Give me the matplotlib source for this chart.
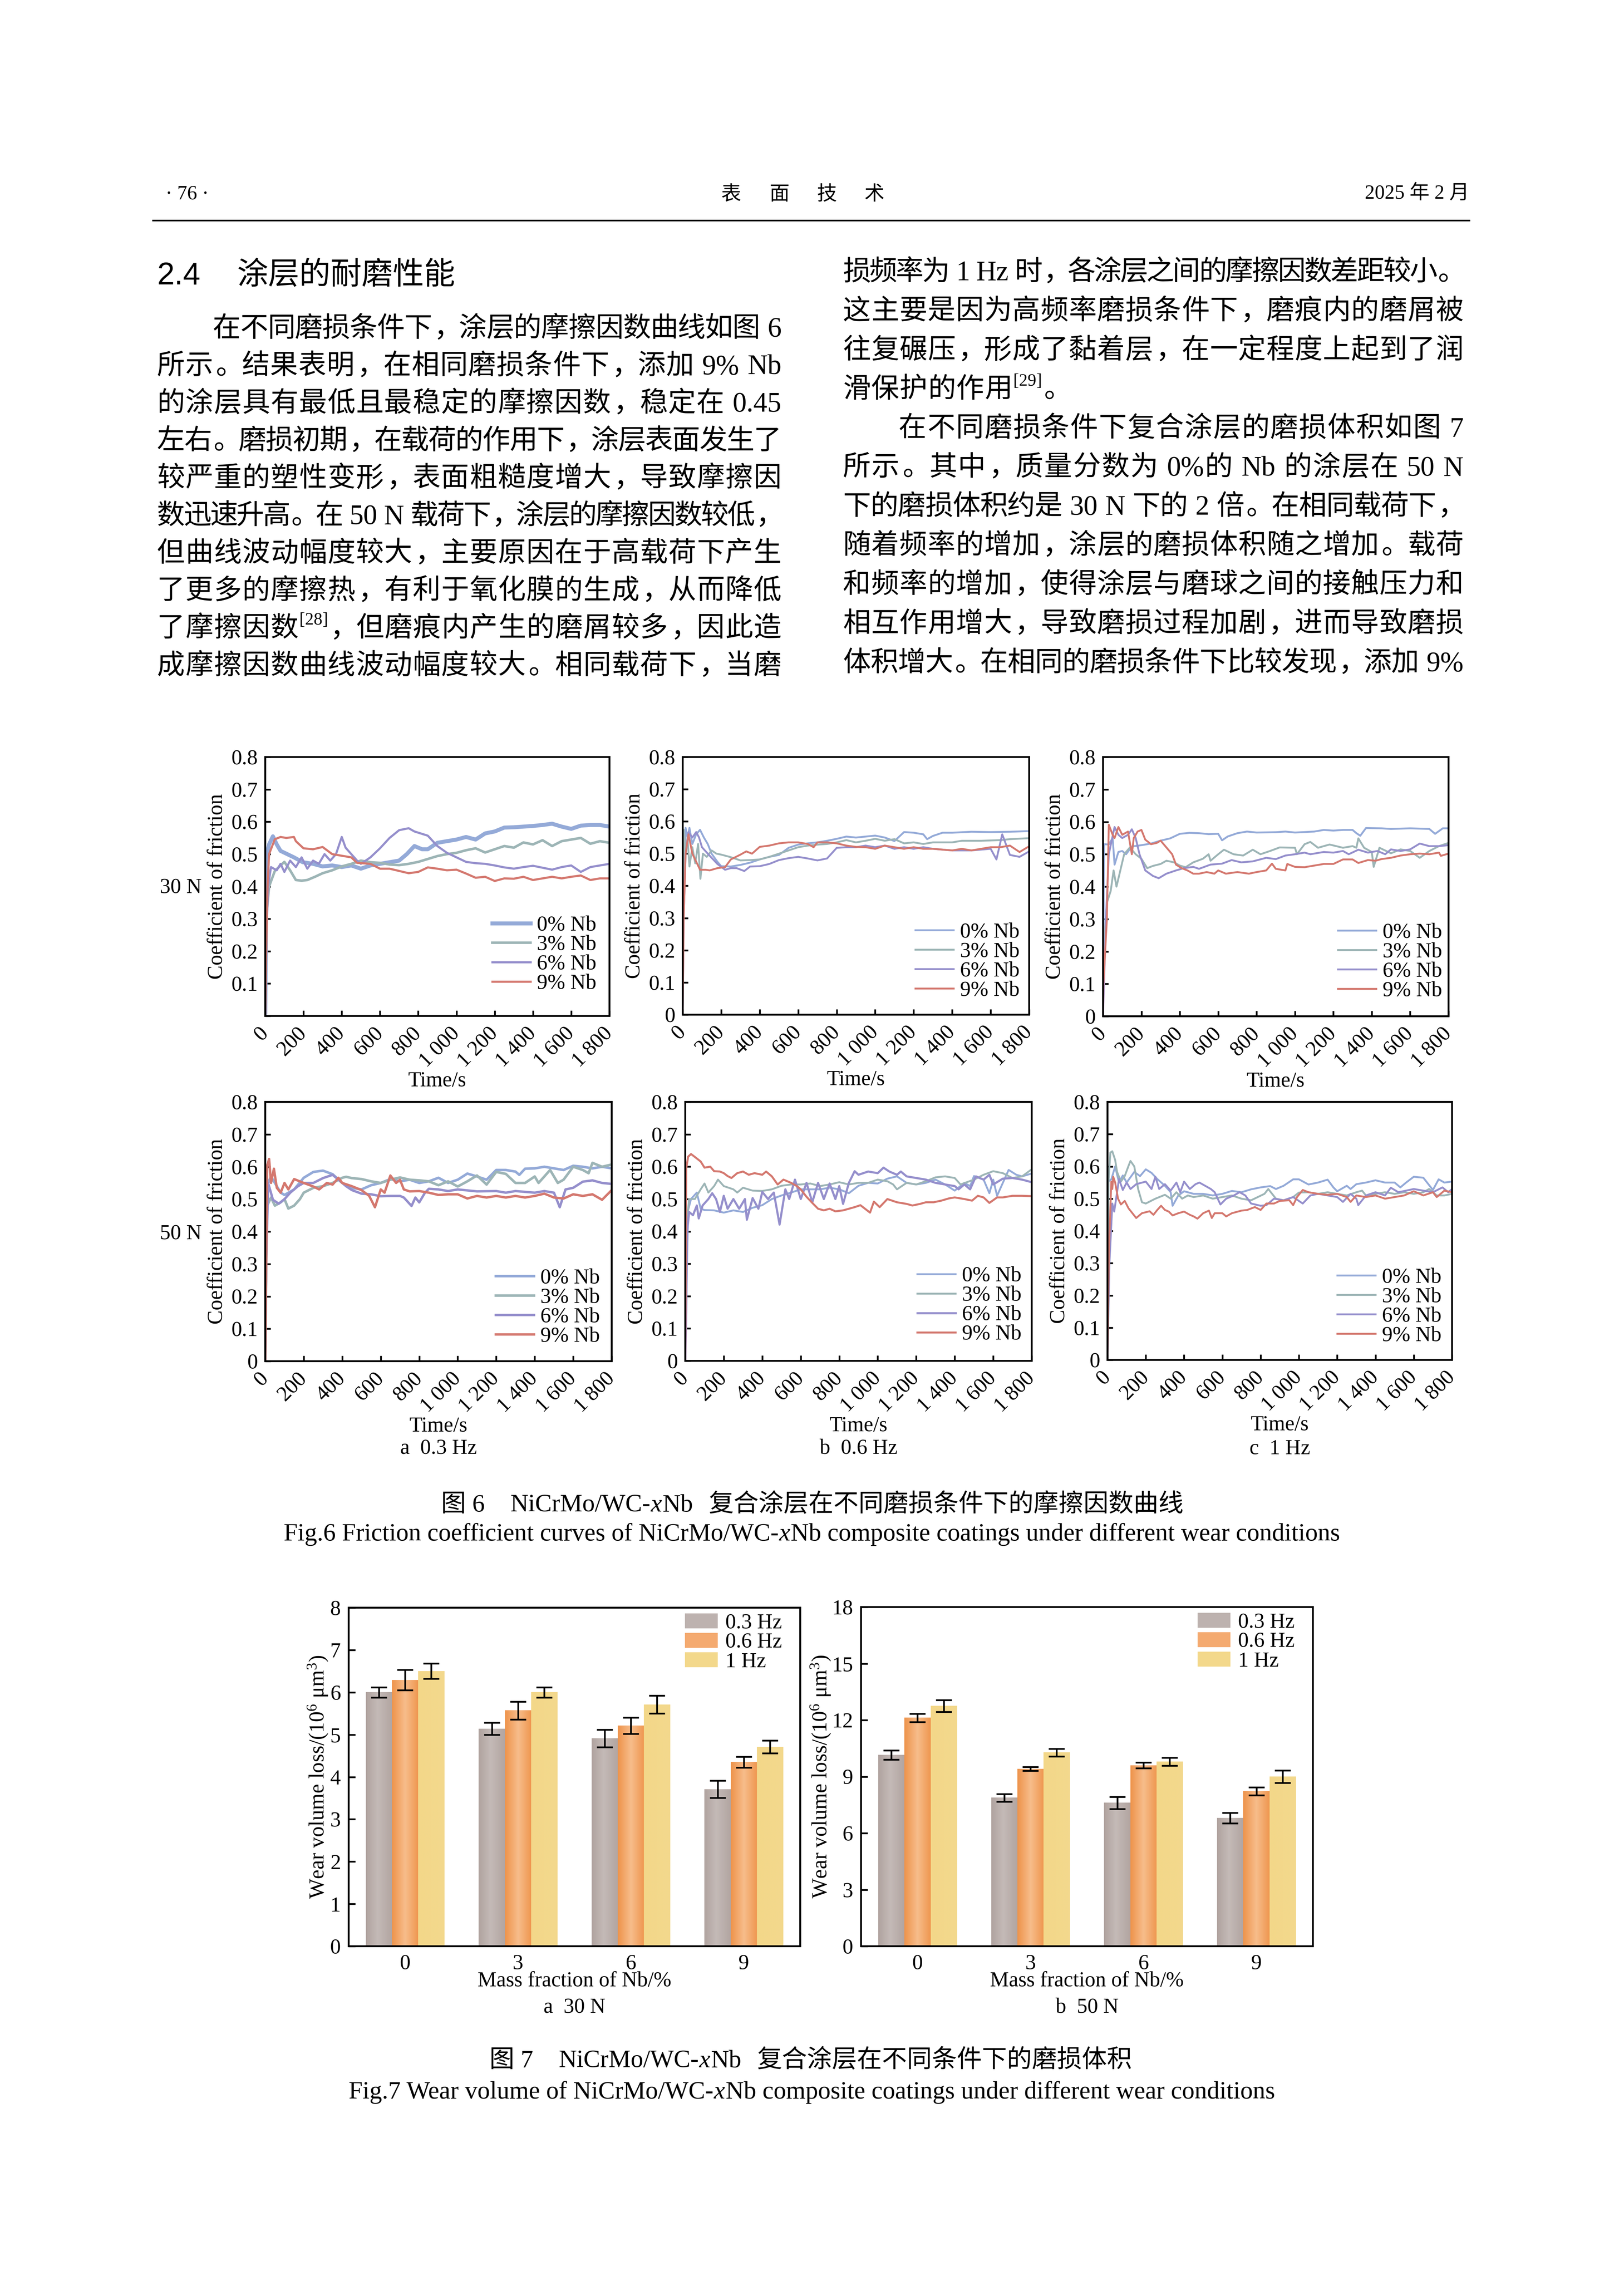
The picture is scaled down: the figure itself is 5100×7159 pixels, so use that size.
import numpy as np
import matplotlib
matplotlib.use('Agg')
import matplotlib.pyplot as plt
from matplotlib.lines import Line2D
from matplotlib.colors import LinearSegmentedColormap

# ---------------- data ----------------
nb_labels = ['0% Nb', '3% Nb', '6% Nb', '9% Nb']
time_ticks = [0, 200, 400, 600, 800, 1000, 1200, 1400, 1600, 1800]
time_labels = ['0', '200', '400', '600', '800', '1 000', '1 200', '1 400', '1 600', '1 800']
cof_ticks = [0, 0.1, 0.2, 0.3, 0.4, 0.5, 0.6, 0.7, 0.8]
cof_labels = ['0', '0.1', '0.2', '0.3', '0.4', '0.5', '0.6', '0.7', '0.8']

# 30 N, 0.3 Hz  (time s, coefficient of friction)
a30_0 = [(0,0.0),(4,0.30),(8,0.50),(20,0.53),(40,0.555),(60,0.53),(80,0.51),(115,0.50),(150,0.49),(196,0.475),(250,0.47),(300,0.462),(350,0.465),(400,0.46),(450,0.465),(500,0.455),(550,0.465),(600,0.47),(650,0.475),(700,0.48),(740,0.50),(780,0.525),(820,0.515),(850,0.515),(900,0.535),(950,0.54),(1000,0.545),(1050,0.553),(1100,0.545),(1150,0.564),(1200,0.57),(1250,0.582),(1300,0.583),(1350,0.585),(1400,0.587),(1450,0.59),(1500,0.594),(1550,0.585),(1600,0.578),(1650,0.588),(1700,0.59),(1750,0.59),(1800,0.585)]
a30_3 = [(0,0.0),(5,0.3),(20,0.40),(50,0.448),(80,0.465),(100,0.476),(130,0.45),(160,0.42),(190,0.418),(220,0.42),(260,0.43),(300,0.441),(350,0.45),(400,0.462),(450,0.47),(500,0.48),(550,0.475),(600,0.473),(650,0.468),(700,0.466),(750,0.47),(800,0.476),(850,0.485),(900,0.494),(950,0.50),(1000,0.504),(1050,0.512),(1100,0.518),(1150,0.505),(1200,0.515),(1250,0.525),(1300,0.52),(1350,0.536),(1400,0.53),(1450,0.543),(1500,0.525),(1550,0.54),(1600,0.545),(1650,0.55),(1700,0.532),(1750,0.54),(1800,0.535)]
a30_6 = [(0,0.0),(6,0.25),(15,0.40),(30,0.46),(60,0.45),(80,0.47),(100,0.445),(130,0.48),(160,0.46),(190,0.49),(220,0.455),(250,0.48),(280,0.47),(310,0.50),(340,0.48),(370,0.50),(400,0.553),(420,0.52),(450,0.50),(480,0.48),(500,0.47),(550,0.49),(600,0.518),(650,0.55),(700,0.574),(750,0.58),(780,0.57),(850,0.557),(900,0.525),(950,0.504),(1000,0.49),(1050,0.476),(1100,0.472),(1150,0.47),(1200,0.465),(1250,0.459),(1300,0.455),(1350,0.46),(1400,0.464),(1450,0.458),(1500,0.452),(1550,0.46),(1600,0.465),(1650,0.445),(1700,0.46),(1750,0.465),(1800,0.47)]
a30_9 = [(0,0.0),(5,0.2),(12,0.40),(20,0.50),(50,0.546),(80,0.553),(110,0.55),(150,0.553),(160,0.54),(200,0.518),(250,0.515),(300,0.522),(350,0.50),(400,0.495),(450,0.49),(480,0.473),(550,0.47),(600,0.455),(650,0.455),(700,0.448),(750,0.441),(800,0.445),(850,0.459),(900,0.455),(950,0.45),(1000,0.452),(1050,0.44),(1100,0.427),(1150,0.43),(1200,0.417),(1250,0.425),(1300,0.424),(1350,0.43),(1400,0.42),(1450,0.425),(1500,0.43),(1550,0.425),(1600,0.43),(1650,0.434),(1700,0.42),(1750,0.425),(1800,0.425)]

# 30 N, 0.6 Hz
b30_0 = [(0,0.0),(5,0.35),(15,0.58),(25,0.55),(35,0.58),(50,0.53),(70,0.56),(90,0.574),(110,0.55),(130,0.53),(150,0.50),(180,0.475),(200,0.461),(250,0.46),(300,0.465),(350,0.472),(400,0.482),(450,0.49),(500,0.496),(550,0.518),(600,0.528),(650,0.532),(700,0.535),(750,0.54),(800,0.546),(850,0.553),(900,0.55),(950,0.553),(1000,0.556),(1050,0.55),(1100,0.539),(1150,0.567),(1200,0.565),(1250,0.56),(1270,0.545),(1300,0.555),(1350,0.565),(1400,0.565),(1500,0.568),(1600,0.567),(1700,0.568),(1800,0.57)]
b30_3 = [(0,0.0),(3,0.45),(6,0.574),(15,0.50),(25,0.55),(35,0.46),(50,0.52),(65,0.47),(80,0.53),(92,0.422),(105,0.50),(125,0.49),(150,0.51),(175,0.50),(200,0.497),(250,0.489),(300,0.479),(350,0.48),(400,0.482),(450,0.49),(500,0.50),(550,0.51),(600,0.52),(650,0.525),(700,0.528),(750,0.53),(800,0.535),(850,0.542),(900,0.535),(950,0.54),(1000,0.546),(1050,0.54),(1100,0.545),(1150,0.532),(1200,0.535),(1250,0.53),(1300,0.535),(1400,0.535),(1450,0.54),(1500,0.54),(1550,0.54),(1650,0.542),(1700,0.545),(1800,0.548)]
b30_6 = [(0,0.0),(5,0.30),(15,0.50),(30,0.567),(50,0.55),(70,0.567),(85,0.55),(100,0.52),(130,0.50),(180,0.468),(220,0.45),(250,0.455),(280,0.455),(320,0.446),(350,0.46),(400,0.461),(450,0.468),(500,0.48),(550,0.486),(600,0.49),(650,0.485),(700,0.479),(750,0.485),(800,0.518),(850,0.52),(900,0.52),(950,0.525),(1000,0.52),(1050,0.525),(1100,0.515),(1150,0.52),(1200,0.515),(1250,0.52),(1300,0.515),(1400,0.51),(1500,0.51),(1600,0.515),(1630,0.482),(1660,0.56),(1700,0.496),(1750,0.49),(1800,0.507)]
b30_9 = [(0,0.0),(5,0.30),(15,0.50),(30,0.56),(50,0.50),(90,0.45),(120,0.45),(140,0.448),(180,0.455),(220,0.458),(250,0.482),(300,0.497),(330,0.507),(360,0.50),(400,0.521),(450,0.525),(500,0.532),(550,0.535),(600,0.535),(650,0.53),(680,0.52),(700,0.535),(750,0.535),(800,0.532),(850,0.525),(900,0.521),(950,0.52),(1000,0.515),(1050,0.525),(1100,0.52),(1150,0.515),(1200,0.52),(1250,0.515),(1300,0.515),(1400,0.51),(1450,0.515),(1500,0.51),(1550,0.515),(1600,0.52),(1650,0.52),(1700,0.525),(1750,0.505),(1800,0.523)]

# 30 N, 1 Hz
c30_0 = [(0,0.0),(3,0.30),(5,0.531),(30,0.53),(50,0.55),(60,0.468),(80,0.507),(100,0.51),(120,0.50),(150,0.524),(200,0.528),(250,0.533),(300,0.542),(350,0.549),(400,0.563),(450,0.566),(500,0.565),(550,0.562),(600,0.563),(620,0.543),(650,0.555),(700,0.565),(750,0.57),(800,0.567),(900,0.568),(950,0.57),(1000,0.567),(1100,0.57),(1150,0.575),(1200,0.573),(1250,0.575),(1300,0.575),(1320,0.565),(1340,0.557),(1370,0.581),(1450,0.58),(1500,0.578),(1600,0.58),(1700,0.578),(1730,0.563),(1770,0.58),(1800,0.58)]
c30_3 = [(0,0.0),(3,0.2),(20,0.35),(40,0.387),(55,0.45),(70,0.40),(90,0.45),(110,0.50),(140,0.521),(170,0.50),(200,0.486),(230,0.457),(260,0.464),(300,0.47),(330,0.48),(370,0.475),(400,0.465),(430,0.46),(470,0.475),(520,0.486),(550,0.50),(560,0.48),(600,0.50),(630,0.514),(680,0.50),(730,0.496),(780,0.514),(820,0.50),(870,0.51),(920,0.521),(1000,0.52),(1010,0.50),(1050,0.531),(1080,0.538),(1120,0.52),(1180,0.53),(1250,0.52),(1300,0.525),(1320,0.52),(1330,0.549),(1360,0.52),(1400,0.507),(1410,0.461),(1440,0.52),(1500,0.503),(1550,0.515),(1600,0.51),(1650,0.489),(1700,0.51),(1750,0.525),(1800,0.535)]
c30_6 = [(0,0.0),(5,0.1),(15,0.3),(30,0.50),(60,0.584),(80,0.56),(100,0.55),(130,0.56),(150,0.577),(170,0.55),(190,0.50),(220,0.45),(260,0.433),(290,0.426),(330,0.44),(380,0.45),(420,0.457),(470,0.461),(500,0.455),(560,0.468),(620,0.471),(670,0.482),(720,0.475),(780,0.478),(850,0.489),(900,0.485),(950,0.496),(1000,0.50),(1050,0.505),(1080,0.50),(1150,0.507),(1200,0.505),(1250,0.51),(1280,0.50),(1330,0.514),(1380,0.505),(1430,0.51),(1470,0.50),(1500,0.515),(1550,0.51),(1600,0.515),(1650,0.533),(1700,0.525),(1750,0.525),(1800,0.528)]
c30_9 = [(0,0.0),(2,0.1),(20,0.30),(30,0.591),(50,0.56),(60,0.55),(80,0.584),(100,0.56),(130,0.57),(150,0.50),(160,0.55),(180,0.57),(200,0.575),(220,0.545),(250,0.531),(280,0.535),(300,0.542),(330,0.521),(360,0.50),(380,0.468),(410,0.457),(440,0.45),(470,0.44),(500,0.44),(540,0.445),(580,0.44),(600,0.45),(640,0.44),(700,0.445),(760,0.44),(800,0.445),(850,0.45),(880,0.471),(900,0.455),(950,0.45),(960,0.47),(1000,0.461),(1050,0.46),(1100,0.465),(1150,0.47),(1200,0.47),(1250,0.484),(1300,0.484),(1330,0.473),(1380,0.482),(1420,0.48),(1450,0.485),(1500,0.489),(1550,0.496),(1600,0.50),(1650,0.502),(1700,0.50),(1750,0.505),(1760,0.495),(1800,0.502)]

# 50 N, 0.3 Hz
d50_0 = [(0,0.0),(5,0.35),(15,0.55),(30,0.57),(50,0.55),(80,0.52),(100,0.513),(150,0.53),(200,0.566),(250,0.584),(300,0.588),(350,0.577),(400,0.55),(450,0.535),(500,0.53),(550,0.543),(600,0.55),(650,0.562),(700,0.555),(750,0.56),(800,0.55),(850,0.555),(900,0.566),(950,0.55),(1000,0.56),(1050,0.579),(1100,0.57),(1150,0.56),(1200,0.59),(1250,0.59),(1300,0.585),(1320,0.575),(1350,0.594),(1400,0.595),(1450,0.60),(1500,0.595),(1550,0.59),(1600,0.603),(1650,0.60),(1700,0.595),(1750,0.60),(1800,0.595)]
d50_3 = [(0,0.0),(5,0.3),(10,0.48),(30,0.505),(50,0.48),(80,0.49),(100,0.50),(120,0.471),(150,0.48),(180,0.50),(200,0.52),(250,0.535),(300,0.54),(350,0.55),(400,0.566),(420,0.569),(450,0.565),(500,0.562),(550,0.555),(600,0.55),(650,0.56),(700,0.567),(750,0.56),(800,0.558),(850,0.555),(900,0.543),(950,0.555),(1000,0.539),(1050,0.555),(1100,0.573),(1150,0.545),(1200,0.584),(1250,0.578),(1300,0.55),(1350,0.55),(1400,0.57),(1420,0.55),(1480,0.59),(1520,0.55),(1550,0.56),(1600,0.60),(1650,0.59),(1680,0.58),(1700,0.612),(1750,0.60),(1800,0.607)]
d50_6 = [(0,0.0),(5,0.3),(15,0.55),(40,0.498),(70,0.486),(100,0.50),(130,0.52),(170,0.54),(200,0.55),(250,0.55),(300,0.565),(350,0.575),(380,0.56),(420,0.54),(450,0.528),(500,0.517),(550,0.515),(600,0.509),(650,0.51),(700,0.51),(720,0.505),(760,0.479),(780,0.505),(800,0.49),(830,0.52),(850,0.532),(900,0.53),(950,0.525),(1000,0.53),(1100,0.524),(1200,0.525),(1250,0.52),(1300,0.525),(1400,0.52),(1450,0.525),(1500,0.52),(1530,0.475),(1560,0.53),(1600,0.535),(1650,0.554),(1700,0.558),(1750,0.55),(1800,0.547)]
d50_9 = [(0,0.0),(5,0.3),(10,0.603),(20,0.624),(30,0.55),(45,0.594),(60,0.535),(80,0.52),(100,0.55),(120,0.53),(150,0.562),(200,0.55),(250,0.539),(280,0.53),(320,0.55),(350,0.545),(380,0.566),(400,0.55),(450,0.54),(500,0.528),(540,0.51),(570,0.475),(600,0.53),(620,0.52),(650,0.573),(680,0.55),(700,0.56),(720,0.53),(750,0.524),(800,0.525),(850,0.52),(900,0.513),(950,0.515),(1000,0.515),(1050,0.502),(1100,0.51),(1150,0.505),(1200,0.51),(1250,0.505),(1300,0.51),(1350,0.505),(1400,0.51),(1450,0.517),(1500,0.505),(1550,0.502),(1600,0.515),(1650,0.51),(1700,0.515),(1750,0.498),(1800,0.528)]

# 50 N, 0.6 Hz
e50_0 = [(0,0.0),(5,0.2),(15,0.466),(30,0.50),(60,0.52),(80,0.47),(100,0.466),(150,0.465),(200,0.458),(250,0.465),(300,0.46),(350,0.473),(400,0.481),(450,0.50),(500,0.511),(550,0.52),(600,0.53),(650,0.53),(700,0.53),(750,0.535),(800,0.53),(850,0.518),(900,0.541),(950,0.55),(1000,0.548),(1050,0.563),(1100,0.57),(1150,0.55),(1200,0.545),(1250,0.55),(1300,0.56),(1350,0.545),(1400,0.526),(1450,0.55),(1480,0.54),(1500,0.571),(1550,0.56),(1580,0.518),(1600,0.56),(1620,0.51),(1680,0.59),(1720,0.575),(1750,0.57),(1800,0.579)]
e50_3 = [(0,0.0),(5,0.2),(10,0.436),(20,0.50),(50,0.50),(80,0.53),(100,0.548),(120,0.52),(150,0.54),(170,0.56),(200,0.54),(250,0.53),(270,0.52),(300,0.535),(350,0.526),(400,0.525),(450,0.53),(500,0.541),(550,0.545),(600,0.545),(650,0.548),(700,0.54),(750,0.545),(800,0.552),(850,0.545),(900,0.55),(950,0.55),(1000,0.56),(1050,0.555),(1080,0.545),(1100,0.53),(1150,0.55),(1200,0.545),(1250,0.555),(1300,0.567),(1350,0.57),(1400,0.565),(1430,0.545),(1500,0.56),(1550,0.575),(1600,0.586),(1650,0.58),(1700,0.565),(1750,0.57),(1800,0.592)]
e50_6 = [(0,0.0),(5,0.15),(10,0.40),(20,0.46),(40,0.45),(60,0.48),(70,0.44),(90,0.48),(120,0.50),(140,0.518),(160,0.50),(180,0.46),(200,0.51),(220,0.47),(250,0.50),(280,0.47),(310,0.50),(320,0.436),(350,0.503),(380,0.47),(400,0.522),(430,0.50),(460,0.52),(490,0.421),(520,0.53),(540,0.50),(570,0.56),(600,0.50),(630,0.55),(660,0.49),(690,0.55),(720,0.50),(750,0.548),(780,0.50),(800,0.54),(820,0.485),(850,0.55),(880,0.586),(900,0.575),(950,0.585),(1000,0.58),(1030,0.597),(1060,0.585),(1100,0.575),(1120,0.585),(1150,0.57),(1200,0.565),(1250,0.56),(1300,0.55),(1350,0.545),(1400,0.54),(1420,0.53),(1450,0.545),(1480,0.53),(1510,0.57),(1550,0.56),(1580,0.575),(1600,0.545),(1650,0.563),(1700,0.565),(1750,0.56),(1800,0.552)]
e50_9 = [(0,0.0),(3,0.3),(5,0.594),(15,0.631),(30,0.639),(50,0.63),(80,0.616),(100,0.597),(130,0.60),(150,0.586),(180,0.585),(200,0.58),(220,0.571),(240,0.565),(270,0.58),(300,0.585),(330,0.575),(360,0.58),(400,0.575),(420,0.585),(450,0.57),(480,0.545),(510,0.56),(550,0.55),(580,0.54),(600,0.53),(630,0.507),(660,0.488),(690,0.47),(720,0.465),(750,0.47),(780,0.462),(820,0.465),(850,0.47),(880,0.475),(910,0.481),(960,0.458),(980,0.492),(1010,0.475),(1050,0.50),(1100,0.49),(1150,0.485),(1180,0.48),(1220,0.485),(1250,0.49),(1290,0.49),(1330,0.495),(1370,0.502),(1400,0.505),(1450,0.50),(1490,0.495),(1520,0.51),(1550,0.505),(1580,0.488),(1620,0.505),(1650,0.505),(1700,0.51),(1750,0.51),(1800,0.509)]

# 50 N, 1 Hz
f50_0 = [(0,0.0),(3,0.553),(20,0.56),(40,0.60),(60,0.55),(80,0.572),(100,0.55),(140,0.583),(170,0.57),(200,0.591),(230,0.58),(260,0.561),(300,0.54),(330,0.52),(340,0.478),(370,0.51),(400,0.523),(450,0.515),(500,0.515),(550,0.51),(600,0.515),(650,0.524),(700,0.52),(750,0.529),(800,0.535),(850,0.539),(880,0.53),(920,0.54),(970,0.56),(1000,0.56),(1050,0.544),(1100,0.55),(1150,0.559),(1180,0.535),(1200,0.523),(1250,0.54),(1270,0.53),(1300,0.545),(1350,0.55),(1400,0.557),(1450,0.55),(1500,0.55),(1530,0.535),(1560,0.55),(1600,0.568),(1650,0.565),(1700,0.527),(1730,0.56),(1760,0.55),(1800,0.553)]
f50_3 = [(0,0.0),(5,0.55),(15,0.643),(25,0.647),(40,0.62),(50,0.583),(70,0.553),(90,0.57),(110,0.602),(120,0.617),(140,0.60),(160,0.53),(180,0.489),(200,0.485),(250,0.50),(300,0.512),(330,0.50),(360,0.52),(390,0.50),(420,0.51),(450,0.505),(500,0.51),(550,0.50),(600,0.505),(650,0.51),(700,0.50),(750,0.495),(820,0.515),(840,0.53),(880,0.50),(920,0.495),(970,0.505),(1000,0.519),(1050,0.52),(1100,0.515),(1150,0.52),(1200,0.515),(1250,0.51),(1300,0.52),(1330,0.525),(1350,0.51),(1400,0.515),(1450,0.52),(1500,0.515),(1550,0.52),(1600,0.515),(1650,0.52),(1680,0.53),(1720,0.51),(1760,0.51),(1800,0.515)]
f50_6 = [(0,0.0),(3,0.1),(10,0.30),(20,0.42),(25,0.485),(35,0.46),(50,0.52),(60,0.561),(80,0.527),(100,0.55),(120,0.53),(150,0.545),(200,0.553),(230,0.53),(250,0.568),(270,0.53),(300,0.545),(330,0.525),(360,0.55),(380,0.52),(400,0.553),(430,0.53),(460,0.545),(480,0.55),(510,0.54),(540,0.53),(560,0.52),(590,0.482),(620,0.50),(660,0.51),(690,0.52),(720,0.51),(750,0.485),(800,0.478),(830,0.48),(870,0.50),(920,0.495),(970,0.505),(1020,0.485),(1060,0.51),(1100,0.515),(1150,0.51),(1200,0.505),(1230,0.49),(1270,0.515),(1300,0.50),(1310,0.48),(1350,0.51),(1400,0.52),(1450,0.51),(1480,0.534),(1520,0.52),(1560,0.525),(1600,0.53),(1650,0.525),(1700,0.52),(1750,0.535),(1780,0.52),(1800,0.53)]
f50_9 = [(0,0.0),(2,0.1),(8,0.35),(20,0.553),(25,0.53),(30,0.568),(40,0.55),(55,0.50),(70,0.482),(90,0.493),(110,0.47),(130,0.455),(150,0.44),(180,0.455),(220,0.461),(240,0.45),(260,0.465),(280,0.478),(300,0.465),(320,0.46),(340,0.448),(370,0.455),(400,0.46),(430,0.45),(450,0.445),(470,0.438),(500,0.455),(530,0.463),(545,0.44),(560,0.455),(600,0.455),(620,0.445),(650,0.455),(700,0.463),(730,0.465),(770,0.474),(800,0.465),(830,0.485),(870,0.485),(900,0.493),(950,0.495),(970,0.48),(990,0.505),(1020,0.527),(1050,0.52),(1100,0.515),(1150,0.512),(1200,0.515),(1250,0.505),(1270,0.49),(1300,0.51),(1350,0.505),(1400,0.51),(1450,0.50),(1500,0.505),(1550,0.51),(1600,0.523),(1650,0.51),(1700,0.52),(1720,0.505),(1760,0.525),(1800,0.52)]

# wear volume (10^6 um^3) at Nb = 0, 3, 6, 9 %
nb_groups = ['0', '3', '6', '9']
freq_labels = ['0.3 Hz', '0.6 Hz', '1 Hz']
wear30_03 = [6.00, 5.14, 4.91, 3.71]
wear30_06 = [6.29, 5.57, 5.21, 4.35]
wear30_10 = [6.50, 6.00, 5.71, 4.71]
err30_03 = [0.12, 0.14, 0.21, 0.20]
err30_06 = [0.24, 0.21, 0.19, 0.13]
err30_10 = [0.18, 0.12, 0.21, 0.15]
wear50_03 = [10.15, 7.88, 7.61, 6.80]
wear50_06 = [12.12, 9.41, 9.60, 8.22]
wear50_10 = [12.75, 10.28, 9.80, 9.00]
err50_03 = [0.25, 0.20, 0.32, 0.28]
err50_06 = [0.22, 0.10, 0.15, 0.21]
err50_10 = [0.31, 0.20, 0.21, 0.33]

# ---------------- page text ----------------
left_lines = [
    '在不同磨损条件下，涂层的摩擦因数曲线如图 6',
    '所示。结果表明，在相同磨损条件下，添加 9% Nb',
    '的涂层具有最低且最稳定的摩擦因数，稳定在 0.45',
    '左右。磨损初期，在载荷的作用下，涂层表面发生了',
    '较严重的塑性变形，表面粗糙度增大，导致摩擦因',
    '数迅速升高。在 50 N 载荷下，涂层的摩擦因数较低，',
    '但曲线波动幅度较大，主要原因在于高载荷下产生',
    '了更多的摩擦热，有利于氧化膜的生成，从而降低',
    '了摩擦因数^[28]，但磨痕内产生的磨屑较多，因此造',
    '成摩擦因数曲线波动幅度较大。相同载荷下，当磨',
]
right_lines = [
    '损频率为 1 Hz 时，各涂层之间的摩擦因数差距较小。',
    '这主要是因为高频率磨损条件下，磨痕内的磨屑被',
    '往复碾压，形成了黏着层，在一定程度上起到了润',
    '滑保护的作用^[29]。',
    '在不同磨损条件下复合涂层的磨损体积如图 7',
    '所示。其中，质量分数为 0%的 Nb 的涂层在 50 N',
    '下的磨损体积约是 30 N 下的 2 倍。在相同载荷下，',
    '随着频率的增加，涂层的磨损体积随之增加。载荷',
    '和频率的增加，使得涂层与磨球之间的接触压力和',
    '相互作用增大，导致磨损过程加剧，进而导致磨损',
    '体积增大。在相同的磨损条件下比较发现，添加 9%',
]

# ---------------- figure ----------------
plt.rcParams['font.family'] = ['Liberation Serif', 'Noto Sans CJK SC']
plt.rcParams['mathtext.default'] = 'regular'
plt.rcParams['axes.unicode_minus'] = False

W, H, DPI = 5100, 7159, 300
fig = plt.figure(figsize=(W / DPI, H / DPI), dpi=DPI, facecolor='white')
renderer = fig.canvas.get_renderer()

def fx(px):
    return px / W

def fy(py):
    return 1 - py / H

SERIF = 'Liberation Serif'
CJK = 'Noto Sans CJK SC'
MIX = [SERIF, CJK]
PUNCT = '，。、；：'
BODY_PT = 21
EM = BODY_PT * DPI / 72


def tokens_of(line):
    toks, word, space = [], '', False
    i = 0
    while i < len(line):
        ch = line[i]
        if ch == '^':
            if word:
                toks.append((word, space, 'lat'))
                word, space = '', False
            j = line.index(']', i)
            toks.append((line[i + 1:j + 1], False, 'sup'))
            i = j + 1
            continue
        if ch == ' ':
            if word:
                toks.append((word, space, 'lat'))
                word = ''
            space = True
        elif ord(ch) < 0x2e80:
            word += ch
        else:
            if word:
                toks.append((word, space, 'lat'))
                word, space = '', False
            toks.append((ch, space, 'cjk'))
            space = False
        i += 1
    if word:
        toks.append((word, space, 'lat'))
    return toks


def body_line(x0, x1, yc, line, justify=True):
    toks = tokens_of(line)
    base = yc + 0.36 * EM
    arts, widths = [], []
    for t, sp, kind in toks:
        if kind == 'cjk':
            a = fig.text(0, 0, t, fontsize=BODY_PT, family=CJK, va='baseline',
                         ha='left' if t in PUNCT else 'center')
            w = EM
        else:
            size = BODY_PT * 0.62 if kind == 'sup' else BODY_PT
            a = fig.text(0, 0, t, fontsize=size, family=SERIF, va='baseline', ha='left')
            w = a.get_window_extent(renderer).width
        arts.append(a)
        widths.append(w)
    sp_w = 0.28 * EM
    nsp = sum(1 for t in toks if t[1])
    ngap = sum(1 for i, t in enumerate(toks) if i > 0 and t[2] != 'sup')
    free = (x1 - x0) - sum(widths) - nsp * sp_w
    gap = free / ngap if (justify and ngap) else 1.5
    x = x0
    for i, ((t, sp, kind), a, w) in enumerate(zip(toks, arts, widths)):
        if i > 0 and kind != 'sup':
            x += gap
        if sp:
            x += sp_w
        if kind == 'cjk':
            px = x + 0.08 * EM if t in PUNCT else x + w / 2
            a.set_position((fx(px), fy(base)))
        elif kind == 'sup':
            a.set_position((fx(x + 3), fy(base - 0.42 * EM)))
        else:
            a.set_position((fx(x), fy(base)))
        x += w


def text_width(s, **kw):
    a = fig.text(0, 0, s, **kw)
    w = a.get_window_extent(renderer).width
    a.remove()
    return w


def runs_centered(xc, yc, runs, size):
    em = size * DPI / 72
    arts, widths = [], []
    for txt, style in runs:
        if style == 'sp':
            arts.append(None)
            widths.append(float(txt) * em)
            continue
        kw = dict(fontsize=size, va='baseline', ha='left')
        if style == 'cn':
            kw['family'] = MIX
        elif style == 'it':
            kw.update(family=SERIF, style='italic')
        else:
            kw['family'] = SERIF
        a = fig.text(0, 0, txt, **kw)
        arts.append(a)
        widths.append(a.get_window_extent(renderer).width)
    x = xc - sum(widths) / 2
    base = yc + 0.33 * em
    for a, w in zip(arts, widths):
        if a is not None:
            a.set_position((fx(x), fy(base)))
        x += w + (1.5 if a is not None else 0)


# ---- running header ----
HDR_PT = 15
fig.text(fx(520), fy(610), '· 76 ·', fontsize=HDR_PT, family=SERIF, ha='left', va='center')
for ch, xc in zip('表面技术', [2296, 2448, 2597, 2746]):
    fig.text(fx(xc), fy(610), ch, fontsize=HDR_PT, family=CJK, ha='center', va='center')
fig.text(fx(4614), fy(610), '2025 年 2 月', fontsize=HDR_PT, family=MIX, ha='right', va='center')
fig.add_artist(Line2D([fx(480), fx(4614)], [fy(692), fy(692)], color='black', lw=1.2))

# ---- section heading & body text ----
HEAD_PT = 23.5
head_em = HEAD_PT * DPI / 72
fig.text(fx(493), fy(857 + 0.36 * head_em), '2.4', fontsize=HEAD_PT, family='Liberation Sans',
         va='baseline', ha='left')
fig.text(fx(744), fy(857 + 0.36 * head_em), '涂层的耐磨性能', fontsize=HEAD_PT, family=CJK,
         va='baseline', ha='left')

LX0, LX1 = 493, 2454
RX0, RX1 = 2647, 4596
for k, line in enumerate(left_lines):
    x0 = LX0 + 2 * EM if k == 0 else LX0
    body_line(x0, LX1, 1025 + k * 117.7, line)
for k, line in enumerate(right_lines):
    x0 = RX0 + 2 * EM if k == 4 else RX0
    body_line(x0, RX1, 848 + k * 122.7, line, justify=(k != 3))

# ---- Fig. 6 friction curves ----
nb_colors = ['#94aad8', '#9db5b6', '#958fcc', '#d4786f']
TICK_PT = 16

panels = [
    ((833, 2377, 1914, 3190), [a30_0, a30_3, a30_6, a30_9], [3.0, 1.9, 1.6, 1.6], (0.962, 0.087), False),
    ((2144, 2377, 3232, 3186), [b30_0, b30_3, b30_6, b30_9], [1.4, 1.4, 1.4, 1.4], (0.972, 0.055), True),
    ((3464, 2377, 4549, 3191), [c30_0, c30_3, c30_6, c30_9], [1.4, 1.4, 1.4, 1.4], (0.981, 0.06), True),
    ((833, 3460, 1921, 4274), [d50_0, d50_3, d50_6, d50_9], [1.9, 1.9, 1.8, 1.8], (0.966, 0.057), True),
    ((2152, 3460, 3240, 4273), [e50_0, e50_3, e50_6, e50_9], [1.4, 1.4, 1.6, 1.5], (0.970, 0.064), True),
    ((3478, 3460, 4560, 4270), [f50_0, f50_3, f50_6, f50_9], [1.4, 1.4, 1.4, 1.4], (0.969, 0.055), True),
]

for (l, t, r, b), curves, lws, leg_xy, show_zero in panels:
    ax = fig.add_axes([fx(l), fy(b), (r - l) / W, (b - t) / H])
    for series, lab, col, lw in zip(curves, nb_labels, nb_colors, lws):
        ts = [p[0] for p in series]
        vs = [p[1] for p in series]
        ax.plot(ts, vs, color=col, lw=lw, label=lab, solid_joinstyle='round')
    ax.set_xlim(0, 1800)
    ax.set_ylim(0, 0.8)
    ax.set_xticks(time_ticks)
    ax.set_xticklabels(time_labels, rotation=45, ha='right', va='center',
                       rotation_mode='anchor', fontsize=TICK_PT)
    ax.set_yticks(cof_ticks)
    ylabs = list(cof_labels)
    if not show_zero:
        ylabs[0] = ''
    ax.set_yticklabels(ylabs, fontsize=TICK_PT)
    ax.tick_params(axis='x', direction='in', length=4, width=1.3, pad=11)
    ax.tick_params(axis='y', direction='in', length=4, width=1.3, pad=5.5)
    for sp in ax.spines.values():
        sp.set_linewidth(1.4)
    ax.legend(loc='lower right', bbox_to_anchor=leg_xy, frameon=False, fontsize=TICK_PT,
              handlelength=1.8, handletextpad=0.3, labelspacing=0.0,
              borderpad=0, borderaxespad=0)
    fig.text(fx(l - 152), fy((t + b) / 2), 'Coefficient of friction', rotation=90,
             fontsize=TICK_PT, family=SERIF, ha='center', va='center')
    fig.text(fx((l + r) / 2), fy(b + 205), 'Time/s', fontsize=TICK_PT, family=SERIF,
             ha='center', va='center')

fig.text(fx(568), fy(2788), '30 N', fontsize=TICK_PT, family=SERIF, ha='center', va='center')
fig.text(fx(568), fy(3875), '50 N', fontsize=TICK_PT, family=SERIF, ha='center', va='center')
for xc, lab in [(1377, 'a  0.3 Hz'), (2696, 'b  0.6 Hz'), (4019, 'c  1 Hz')]:
    fig.text(fx(xc), fy(4549), lab, fontsize=TICK_PT, family=SERIF, ha='center', va='center')

# ---- captions ----
cap_probe = 'Fig.6 Friction coefficient curves of NiCrMo/WC-xNb composite coatings under different wear conditions'
CAP_PT = 18 * 3322 / text_width(cap_probe, fontsize=18, family=SERIF)

runs_centered(2548, 4720, [('图 6', 'cn'), ('1.0', 'sp'), ('NiCrMo/WC-', 'rm'), ('x', 'it'),
                           ('Nb', 'rm'), ('0.6', 'sp'), ('复合涂层在不同磨损条件下的摩擦因数曲线', 'cn')], CAP_PT)
runs_centered(2548, 4811, [('Fig.6 Friction coefficient curves of NiCrMo/WC-', 'rm'), ('x', 'it'),
                           ('Nb composite coatings under different wear conditions', 'rm')], CAP_PT)
runs_centered(2543, 6465, [('图 7', 'cn'), ('1.0', 'sp'), ('NiCrMo/WC-', 'rm'), ('x', 'it'),
                           ('Nb', 'rm'), ('0.6', 'sp'), ('复合涂层在不同条件下的磨损体积', 'cn')], CAP_PT)
runs_centered(2548, 6563, [('Fig.7 Wear volume of NiCrMo/WC-', 'rm'), ('x', 'it'),
                           ('Nb composite coatings under different wear conditions', 'rm')], CAP_PT)

# ---- Fig. 7 wear volume bars ----
cmap_03 = LinearSegmentedColormap.from_list('g03', [(0, '#b0a39f'), (0.45, '#c4bab7'), (1, '#b2a5a1')])
cmap_06 = LinearSegmentedColormap.from_list('g06', [(0, '#ee934b'), (0.5, '#f7bd8b'), (1, '#ef9750')])
cmap_10 = LinearSegmentedColormap.from_list('g10', [(0, '#f3d789'), (1, '#f3d98d')])
bar_cmaps = [cmap_03, cmap_06, cmap_10]
bar_solid = ['#bdb2af', '#f4aa70', '#f3d88b']
ramp = np.linspace(0, 1, 128)[None, :]
BW = 0.232

bar_sets = [
    ((1095, 5048, 2513, 6111), [wear30_03, wear30_06, wear30_10], [err30_03, err30_06, err30_10],
     8, [0, 1, 2, 3, 4, 5, 6, 7, 8], 'a  30 N', 97),
    ((2704, 5046, 4123, 6111), [wear50_03, wear50_06, wear50_10], [err50_03, err50_06, err50_10],
     18, [0, 3, 6, 9, 12, 15, 18], 'b  50 N', 127),
]

for (l, t, r, b), vals, errs, ymax, yt, sub, ylab_off in bar_sets:
    ax = fig.add_axes([fx(l), fy(b), (r - l) / W, (b - t) / H])
    xg = np.arange(len(nb_groups))
    for k in range(3):
        xs = xg + (k - 1) * BW
        ax.bar(xs, vals[k], BW, color=bar_solid[k], label=freq_labels[k], zorder=1, linewidth=0)
        for xi, hv in zip(xs, vals[k]):
            ax.imshow(ramp, cmap=bar_cmaps[k], extent=(xi - BW / 2, xi + BW / 2, 0, hv),
                      aspect='auto', interpolation='bilinear', zorder=2)
        ax.errorbar(xs, vals[k], yerr=errs[k], fmt='none', ecolor='black', elinewidth=1.3,
                    capsize=6, capthick=1.3, zorder=3)
    ax.set_xlim(-0.5, 3.5)
    ax.set_ylim(0, ymax)
    ax.set_aspect('auto')
    ax.set_xticks(xg)
    ax.set_xticklabels(nb_groups, fontsize=TICK_PT)
    ax.set_yticks(yt)
    ax.set_yticklabels([str(v) for v in yt], fontsize=TICK_PT)
    ax.tick_params(direction='in', length=5, width=1.3, pad=6)
    for sp in ax.spines.values():
        sp.set_linewidth(1.4)
    ax.legend(loc='upper right', bbox_to_anchor=(1 - 57 / (r - l), 1 - 18 / (b - t)), frameon=False,
              fontsize=TICK_PT, handlelength=1.55, handleheight=0.7, handletextpad=0.36,
              labelspacing=0.0, borderpad=0, borderaxespad=0)
    fig.text(fx(l - ylab_off), fy((t + b) / 2), 'Wear volume loss/(10$^6$ μm$^3$)', rotation=90,
             fontsize=TICK_PT, family=SERIF, ha='center', va='center')
    fig.text(fx((l + r) / 2), fy(6220), 'Mass fraction of Nb/%', fontsize=TICK_PT, family=SERIF,
             ha='center', va='center')
    fig.text(fx((l + r) / 2), fy(6304), sub, fontsize=TICK_PT, family=SERIF, ha='center', va='center')

fig.savefig('out.png', dpi=DPI, facecolor='white')
